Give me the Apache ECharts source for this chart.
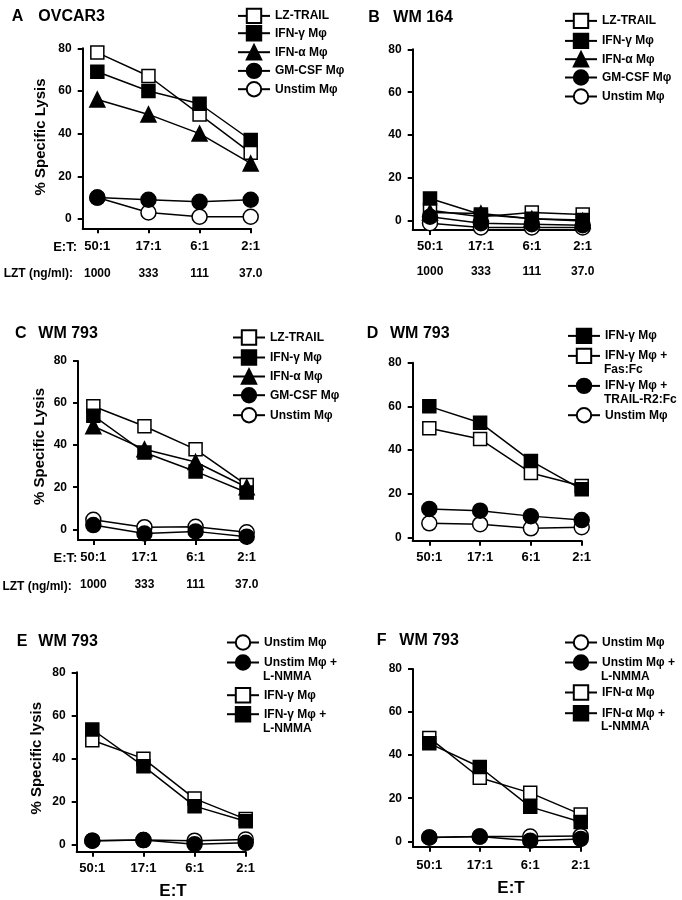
<!DOCTYPE html>
<html><head><meta charset="utf-8">
<script src="https://cdn.jsdelivr.net/npm/echarts@6/dist/echarts.min.js"></script>
<style>html,body{margin:0;padding:0;background:#fff}#c{width:682px;height:900px}</style>
</head><body><div id="c"></div>
<script>
const FONT = '"Liberation Sans", Arial, Helvetica, sans-serif';

// ---- tick labels ----
const etLabels = ['50:1', '17:1', '6:1', '2:1'];
const lztLabels = ['1000', '333', '111', '37.0'];
const yTicks = [0, 20, 40, 60, 80];
const xTicks = [0, 1, 2, 3];

// ---- Panel A: OVCAR3 ----
const aLzTrail = [78, 67, 49, 31];
const aIfnG = [69, 60, 54, 37];
const aIfnA = [56, 49, 40, 26];
const aGmCsf = [10, 9, 8, 9];
const aUnstim = [10, 3, 1, 1];
// ---- Panel B: WM 164 ----
const bLzTrail = [5, 2, 4, 3];
const bIfnG = [10.5, 3, 1, 0.5];
const bIfnA = [4, 3.5, 1, 0];
const bGmCsf = [2, -1, -1.5, -2];
const bUnstim = [-1, -3, -3, -3];
// ---- Panel C: WM 793 ----
const cLzTrail = [58.5, 49, 38, 21];
const cIfnG = [54, 36.5, 27.5, 17.5];
const cIfnA = [49, 38, 32, 20];
const cGmCsf = [2, -2, -1, -3.5];
const cUnstim = [4.5, 1, 1.2, -1.4];
// ---- Panel D: WM 793 ----
const dIfnG = [60, 52.5, 35, 22];
const dIfnGFas = [50, 45, 29.5, 23.5];
const dIfnGTrailR2 = [13, 12.2, 9.7, 7.9];
const dUnstim = [6.4, 6, 4.1, 4.6];
// ---- Panel E: WM 793 ----
const eUnstim = [2, 2.3, 2, 2.6];
const eUnstimNmma = [2, 2.3, 0.4, 1];
const eIfnG = [48.5, 40, 21.5, 12];
const eIfnGNmma = [53.5, 36.5, 18, 11];
// ---- Panel F: WM 793 ----
const fUnstim = [1.8, 2.2, 2.2, 2.5];
const fUnstimNmma = [1.8, 2.2, 0.3, 1.1];
const fIfnA = [48, 29.5, 22.5, 12.5];
const fIfnANmma = [45.5, 34.5, 16, 9];

// ---- panel configuration (layout + styles) ----
const panels = [
  { id: 'A', grid: { left: 82.7, top: 48.3, width: 168, height: 180 }, ymin: -4.4, xmin: -0.286, xMargin: 12, lzt: 27, legendLeft: 237,
    series: [
      { label: 'Unstim Mφ', data: aUnstim, sym: 'circle', fill: false, row: 90 },
      { label: 'LZ-TRAIL', data: aLzTrail, sym: 'rect', fill: false, row: 16.7 },
      { label: 'IFN-γ Mφ', data: aIfnG, sym: 'rect', fill: true, row: 34 },
      { label: 'IFN-α Mφ', data: aIfnA, sym: 'triangle', fill: true, row: 53 },
      { label: 'GM-CSF Mφ', data: aGmCsf, sym: 'circle', fill: true, row: 71.7 }
    ] },
  { id: 'B', grid: { left: 412.7, top: 49.3, width: 170, height: 180.7 }, ymin: -4.2, xmin: -0.34, xMargin: 10, lzt: 26, legendLeft: 564,
    series: [
      { label: 'Unstim Mφ', data: bUnstim, sym: 'circle', fill: false, row: 97.3 },
      { label: 'LZ-TRAIL', data: bLzTrail, sym: 'rect', fill: false, row: 21.7 },
      { label: 'IFN-α Mφ', data: bIfnA, sym: 'triangle', fill: true, row: 60 },
      { label: 'GM-CSF Mφ', data: bGmCsf, sym: 'circle', fill: true, row: 78.3 },
      { label: 'IFN-γ Mφ', data: bIfnG, sym: 'rect', fill: true, row: 41.7 }
    ] },
  { id: 'C', grid: { left: 78, top: 361, width: 168.7, height: 179 }, ymin: -5.1, xmin: -0.3, xMargin: 11, lzt: 28, legendLeft: 232,
    series: [
      { label: 'Unstim Mφ', data: cUnstim, sym: 'circle', fill: false, row: 416 },
      { label: 'LZ-TRAIL', data: cLzTrail, sym: 'rect', fill: false, row: 338.3 },
      { label: 'IFN-α Mφ', data: cIfnA, sym: 'triangle', fill: true, row: 377.3 },
      { label: 'IFN-γ Mφ', data: cIfnG, sym: 'rect', fill: true, row: 358.3 },
      { label: 'GM-CSF Mφ', data: cGmCsf, sym: 'circle', fill: true, row: 396 }
    ] },
  { id: 'D', grid: { left: 412.7, top: 362.7, width: 169, height: 178 }, ymin: -1.56, xmin: -0.327, xMargin: 10.5, lzt: 0, legendLeft: 567,
    series: [
      { label: 'Unstim Mφ', data: dUnstim, sym: 'circle', fill: false, row: 416 },
      { label: 'IFN-γ Mφ +', line2: 'Fas:Fc', data: dIfnGFas, sym: 'rect', fill: false, row: 356.7, row2: 370 },
      { label: 'IFN-γ Mφ +', line2: 'TRAIL-R2:Fc', data: dIfnGTrailR2, sym: 'circle', fill: true, row: 386.7, row2: 400 },
      { label: 'IFN-γ Mφ', data: dIfnG, sym: 'rect', fill: true, row: 336.7 }
    ] },
  { id: 'E', grid: { left: 76.7, top: 672.3, width: 169, height: 179.4 }, ymin: -3.1, xmin: -0.305, xMargin: 10.5, lzt: 0, legendLeft: 226,
    series: [
      { label: 'Unstim Mφ', data: eUnstim, sym: 'circle', fill: false, row: 643.3 },
      { label: 'Unstim Mφ +', line2: 'L-NMMA', data: eUnstimNmma, sym: 'circle', fill: true, row: 663.3, row2: 676.7 },
      { label: 'IFN-γ Mφ', data: eIfnG, sym: 'rect', fill: false, row: 696 },
      { label: 'IFN-γ Mφ +', line2: 'L-NMMA', data: eIfnGNmma, sym: 'rect', fill: true, row: 715, row2: 728.3 }
    ] },
  { id: 'F', grid: { left: 413, top: 669, width: 167.7, height: 177.7 }, ymin: -2.5, xmin: -0.323, xMargin: 12.5, lzt: 0, legendLeft: 564,
    series: [
      { label: 'Unstim Mφ', data: fUnstim, sym: 'circle', fill: false, row: 643.3 },
      { label: 'Unstim Mφ +', line2: 'L-NMMA', data: fUnstimNmma, sym: 'circle', fill: true, row: 663.3, row2: 676.7 },
      { label: 'IFN-α Mφ', data: fIfnA, sym: 'rect', fill: false, row: 693.3 },
      { label: 'IFN-α Mφ +', line2: 'L-NMMA', data: fIfnANmma, sym: 'rect', fill: true, row: 714, row2: 726.7 }
    ] }
];

const symSize = { rect: 13, circle: 15, triangle: 15 };
const txt = (size) => ({ fontSize: size, fontWeight: 'bold', color: '#000', fontFamily: FONT });

const grids = [], xAxes = [], yAxes = [], series = [], legends = [], elements = [];

panels.forEach((p, pi) => {
  grids.push(Object.assign({ containLabel: false }, p.grid));
  const line = { show: true, onZero: false, lineStyle: { color: '#000', width: 2 } };
  const xi = xAxes.length;
  xAxes.push({
    type: 'value', gridIndex: pi, min: p.xmin, max: 3, axisLine: line, splitLine: { show: false },
    axisTick: { show: true, length: 5, lineStyle: { color: '#000', width: 2 }, customValues: xTicks },
    axisLabel: Object.assign({ customValues: xTicks, margin: p.xMargin, formatter: v => etLabels[Math.round(v)] }, txt(13))
  });
  if (p.lzt) {
    xAxes.push({
      type: 'value', gridIndex: pi, position: 'bottom', offset: p.lzt, min: p.xmin, max: 3,
      axisLine: { show: false }, axisTick: { show: false }, splitLine: { show: false },
      axisLabel: Object.assign({ customValues: xTicks, margin: p.xMargin, formatter: v => lztLabels[Math.round(v)] }, txt(12))
    });
  }
  yAxes.push({
    type: 'value', gridIndex: pi, min: p.ymin, max: 80, axisLine: line, splitLine: { show: false },
    axisTick: { show: true, length: 5, lineStyle: { color: '#000', width: 2 }, customValues: yTicks },
    axisLabel: Object.assign({ customValues: yTicks, margin: 11 }, txt(12))
  });
  p.series.forEach((s, si) => {
    const name = p.id + ':' + s.label + (s.line2 ? ' ' + s.line2 : '');
    series.push({
      type: 'line', name: name, xAxisIndex: xi, yAxisIndex: pi,
      data: s.data.map((v, i) => [i, v]),
      symbol: s.sym, symbolSize: symSize[s.sym], showSymbol: true, clip: false,
      lineStyle: { color: '#000', width: 1.5 },
      itemStyle: { color: s.fill ? '#000' : '#fff', borderColor: '#000', borderWidth: 1.5 },
      emphasis: { disabled: true }, animation: false, z: 2
    });
    legends.push({
      data: [name], left: p.legendLeft, top: s.row - 9, orient: 'vertical', padding: 0,
      itemWidth: 32, itemHeight: 18, itemGap: 0, selectedMode: false,
      formatter: () => s.label, textStyle: txt(12)
    });
    if (s.line2) {
      elements.push({ type: 'text', x: p.legendLeft + 37, y: s.row2,
        style: { text: s.line2, font: 'bold 12px ' + FONT, fill: '#000', align: 'left', verticalAlign: 'middle', textAlign: 'left', textVerticalAlign: 'middle' } });
    }
  });
});

// ---- other texts ----
const texts = [
  // panel letters and titles
  { t: 'A', x: 11.7, y: 16.7, s: 16 }, { t: 'OVCAR3', x: 38.3, y: 16.7, s: 16 },
  { t: 'B', x: 368.3, y: 18, s: 16 }, { t: 'WM 164', x: 393.3, y: 18, s: 16 },
  { t: 'C', x: 15, y: 334, s: 16 }, { t: 'WM 793', x: 38.3, y: 334, s: 16 },
  { t: 'D', x: 366.7, y: 334, s: 16 }, { t: 'WM 793', x: 390, y: 334, s: 16 },
  { t: 'E', x: 16.7, y: 641.7, s: 16 }, { t: 'WM 793', x: 38.3, y: 641.7, s: 16 },
  { t: 'F', x: 376.7, y: 640.5, s: 16 }, { t: 'WM 793', x: 399.3, y: 640.5, s: 16 },
  // row captions
  { t: 'E:T:', x: 77, y: 247, s: 13, a: 'right' }, { t: 'LZT (ng/ml):', x: 73, y: 274, s: 12, a: 'right' },
  { t: 'E:T:', x: 77.3, y: 558.3, s: 13, a: 'right' }, { t: 'LZT (ng/ml):', x: 71.7, y: 586.7, s: 12, a: 'right' },
  // x axis names
  { t: 'E:T', x: 173, y: 891.7, s: 17, a: 'center' }, { t: 'E:T', x: 511, y: 888.3, s: 17, a: 'center' },
  // y axis names
  { t: '% Specific Lysis', x: 41, y: 137, s: 15, a: 'center', r: true },
  { t: '% Specific Lysis', x: 39.5, y: 446.5, s: 15, a: 'center', r: true },
  { t: '% Specific lysis', x: 36.7, y: 758.3, s: 15, a: 'center', r: true }
];
texts.forEach(o => {
  elements.push({ type: 'text', x: o.x, y: o.y, rotation: o.r ? Math.PI / 2 : 0,
    style: { text: o.t, font: 'bold ' + o.s + 'px ' + FONT, fill: '#000',
      align: o.a || 'left', verticalAlign: 'middle', textAlign: o.a || 'left', textVerticalAlign: 'middle' } });
});

const chart = echarts.init(document.getElementById('c'), null, { renderer: 'canvas', width: 682, height: 900 });
chart.setOption({
  backgroundColor: '#fff', animation: false,
  grid: grids, xAxis: xAxes, yAxis: yAxes, series: series, legend: legends,
  graphic: { elements: elements }
});
</script>
</body></html>
